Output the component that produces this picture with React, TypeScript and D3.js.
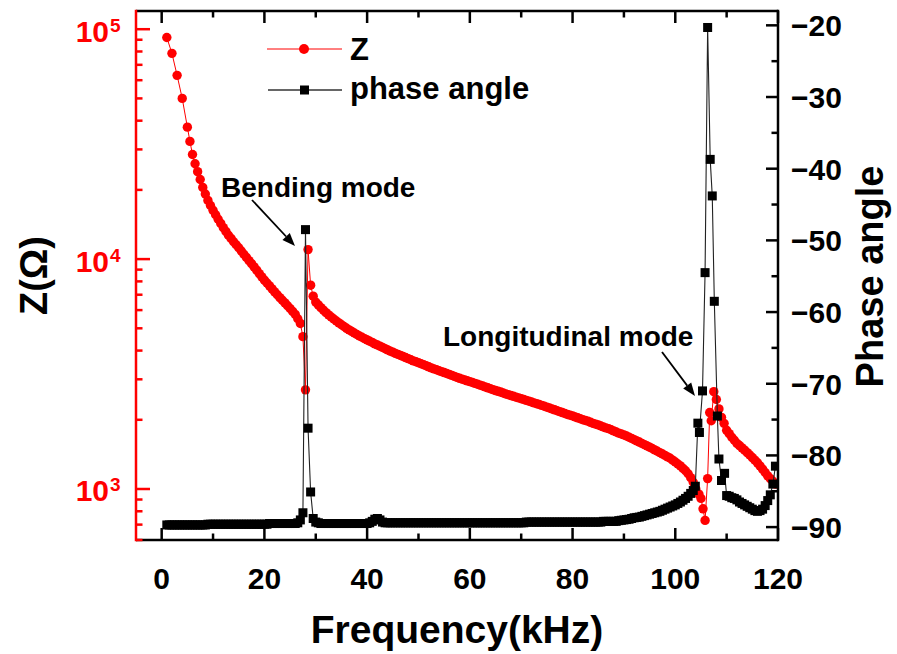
import React from 'react';
import * as d3 from 'd3';

// Impedance |Z| (Ohm) vs frequency (kHz)
const zFreq = [
  1, 2, 3, 4, 5, 5.5, 6, 6.5, 7, 7.5,
  8, 8.5, 9, 9.5, 10, 10.5, 11, 11.5, 12, 12.5,
  13, 13.5, 14, 14.5, 15, 15.5, 16, 16.5, 17, 17.5,
  18, 18.5, 19, 19.5, 20, 20.5, 21, 21.5, 22, 22.5,
  23, 23.5, 24, 24.5, 25, 25.5, 26, 26.5, 27, 27.5,
  28, 28.5, 29, 29.5, 30, 30.5, 31, 31.5, 32, 32.5,
  33, 33.5, 34, 34.5, 35, 35.5, 36, 36.5, 37, 37.5,
  38, 38.5, 39, 39.5, 40, 40.5, 41, 41.5, 42, 42.5,
  43, 43.5, 44, 44.5, 45, 45.5, 46, 46.5, 47, 47.5,
  48, 48.5, 49, 49.5, 50, 50.5, 51, 51.5, 52, 52.5,
  53, 53.5, 54, 54.5, 55, 55.5, 56, 56.5, 57, 57.5,
  58, 58.5, 59, 59.5, 60, 60.5, 61, 61.5, 62, 62.5,
  63, 63.5, 64, 64.5, 65, 65.5, 66, 66.5, 67, 67.5,
  68, 68.5, 69, 69.5, 70, 70.5, 71, 71.5, 72, 72.5,
  73, 73.5, 74, 74.5, 75, 75.5, 76, 76.5, 77, 77.5,
  78, 78.5, 79, 79.5, 80, 80.5, 81, 81.5, 82, 82.5,
  83, 83.5, 84, 84.5, 85, 85.5, 86, 86.5, 87, 87.5,
  88, 88.5, 89, 89.5, 90, 90.5, 91, 91.5, 92, 92.5,
  93, 93.5, 94, 94.5, 95, 95.5, 96, 96.5, 97, 97.5,
  98, 98.5, 99, 99.5, 100, 100.5, 101, 101.5, 102, 102.5,
  103, 103.5, 104, 104.6, 105, 105.4, 105.8, 106.3, 106.7, 107,
  107.5, 108, 108.5, 109, 109.5, 110, 110.5, 111, 111.5, 112,
  112.5, 113, 113.5, 114, 114.5, 115, 115.5, 116, 116.5, 117,
  117.5, 118, 118.5, 119, 119.5,
];
const zImp = [
  92000, 78500, 63000, 50000, 37500, 32500, 28500, 26000, 24000, 22200,
  20500, 19200, 18000, 17100, 16300, 15600, 14900, 14300, 13700, 13200,
  12700, 12300, 11900, 11550, 11200, 10850, 10500, 10170, 9850, 9550,
  9250, 8950, 8650, 8370, 8100, 7870, 7650, 7420, 7200, 7000,
  6800, 6620, 6450, 6270, 6100, 5920, 5750, 5500, 5250, 4600,
  2700, 11000, 7700, 6900, 6500, 6320, 6150, 6000, 5850, 5720,
  5600, 5490, 5380, 5280, 5180, 5090, 5000, 4920, 4850, 4770,
  4700, 4630, 4570, 4510, 4450, 4390, 4340, 4280, 4230, 4180,
  4130, 4080, 4030, 3980, 3940, 3890, 3850, 3810, 3770, 3730,
  3690, 3650, 3610, 3575, 3540, 3505, 3470, 3435, 3400, 3365,
  3330, 3300, 3270, 3240, 3210, 3180, 3150, 3120, 3090, 3060,
  3030, 3005, 2980, 2955, 2930, 2905, 2880, 2855, 2830, 2805,
  2780, 2755, 2730, 2705, 2680, 2660, 2640, 2615, 2590, 2570,
  2550, 2530, 2510, 2490, 2470, 2450, 2430, 2410, 2390, 2370,
  2350, 2330, 2310, 2290, 2270, 2250, 2230, 2210, 2190, 2170,
  2150, 2130, 2110, 2095, 2080, 2060, 2040, 2020, 2000, 1985,
  1970, 1950, 1930, 1915, 1900, 1880, 1860, 1845, 1830, 1810,
  1790, 1770, 1750, 1735, 1720, 1700, 1680, 1660, 1640, 1620,
  1600, 1580, 1560, 1540, 1520, 1500, 1480, 1460, 1440, 1420,
  1400, 1380, 1360, 1335, 1310, 1285, 1260, 1230, 1200, 1165,
  1120, 1070, 1000, 950, 910, 820, 730, 1110, 2150, 1980,
  2650, 2450, 2230, 2050, 1930, 1800, 1740, 1680, 1630, 1580,
  1545, 1510, 1475, 1440, 1405, 1370, 1335, 1300, 1260, 1220,
  1180, 1140, 1110, 1080, 1050,
];

// Phase angle (deg) vs frequency (kHz)
const phFreq = [
  1, 1.5, 2, 2.5, 3, 3.5, 4, 4.5, 5, 5.5,
  6, 6.5, 7, 7.5, 8, 8.5, 9, 9.5, 10, 10.5,
  11, 11.5, 12, 12.5, 13, 13.5, 14, 14.5, 15, 15.5,
  16, 16.5, 17, 17.5, 18, 18.5, 19, 19.5, 20, 20.5,
  21, 21.5, 22, 22.5, 23, 23.5, 24, 24.5, 25, 25.5,
  26, 26.5, 27, 27.5, 28, 28.5, 29, 29.5, 30, 30.5,
  31, 31.5, 32, 32.5, 33, 33.5, 34, 34.5, 35, 35.5,
  36, 36.5, 37, 37.5, 38, 38.5, 39, 39.5, 40, 40.5,
  41, 41.5, 42, 42.5, 43, 43.5, 44, 44.5, 45, 45.5,
  46, 46.5, 47, 47.5, 48, 48.5, 49, 49.5, 50, 50.5,
  51, 51.5, 52, 52.5, 53, 53.5, 54, 54.5, 55, 55.5,
  56, 56.5, 57, 57.5, 58, 58.5, 59, 59.5, 60, 60.5,
  61, 61.5, 62, 62.5, 63, 63.5, 64, 64.5, 65, 65.5,
  66, 66.5, 67, 67.5, 68, 68.5, 69, 69.5, 70, 70.5,
  71, 71.5, 72, 72.5, 73, 73.5, 74, 74.5, 75, 75.5,
  76, 76.5, 77, 77.5, 78, 78.5, 79, 79.5, 80, 80.5,
  81, 81.5, 82, 82.5, 83, 83.5, 84, 84.5, 85, 85.5,
  86, 86.5, 87, 87.5, 88, 88.5, 89, 89.5, 90, 90.5,
  91, 91.5, 92, 92.5, 93, 93.5, 94, 94.5, 95, 95.5,
  96, 96.5, 97, 97.5, 98, 98.5, 99, 99.5, 100, 100.5,
  101, 101.5, 102, 102.5, 103, 103.5, 103.9, 104.4, 104.7, 105.3,
  105.8, 106.3, 106.8, 107.2, 107.6, 108.2, 108.5, 109, 109.6, 110,
  110.5, 111, 111.5, 112, 112.5, 113, 113.5, 114, 114.5, 115,
  115.5, 116, 116.5, 117, 117.5, 118, 118.5, 119, 119.5,
];
const phAngle = [
  -89.7, -89.7, -89.7, -89.7, -89.7, -89.7, -89.7, -89.7, -89.7, -89.7,
  -89.7, -89.7, -89.7, -89.7, -89.7, -89.7, -89.6, -89.6, -89.6, -89.6,
  -89.6, -89.6, -89.6, -89.6, -89.6, -89.6, -89.6, -89.6, -89.6, -89.6,
  -89.6, -89.6, -89.6, -89.6, -89.6, -89.6, -89.6, -89.6, -89.6, -89.6,
  -89.5, -89.5, -89.5, -89.5, -89.5, -89.5, -89.5, -89.5, -89.5, -89.5,
  -89.5, -89.4, -89.0, -88.0, -48.5, -76.2, -85.1, -88.8, -89.3, -89.4,
  -89.5, -89.5, -89.5, -89.5, -89.5, -89.5, -89.5, -89.5, -89.5, -89.5,
  -89.5, -89.5, -89.5, -89.5, -89.5, -89.5, -89.5, -89.5, -89.5, -89.4,
  -89.2, -88.9, -88.8, -89.0, -89.3, -89.4, -89.4, -89.4, -89.4, -89.4,
  -89.4, -89.4, -89.4, -89.4, -89.4, -89.4, -89.4, -89.4, -89.4, -89.4,
  -89.4, -89.4, -89.4, -89.4, -89.4, -89.4, -89.4, -89.4, -89.4, -89.4,
  -89.4, -89.4, -89.4, -89.4, -89.4, -89.4, -89.4, -89.4, -89.4, -89.4,
  -89.4, -89.4, -89.4, -89.4, -89.4, -89.4, -89.4, -89.4, -89.4, -89.4,
  -89.4, -89.4, -89.4, -89.4, -89.4, -89.4, -89.4, -89.4, -89.4, -89.4,
  -89.3, -89.3, -89.3, -89.3, -89.3, -89.3, -89.3, -89.3, -89.3, -89.3,
  -89.3, -89.3, -89.3, -89.3, -89.3, -89.3, -89.3, -89.3, -89.3, -89.3,
  -89.3, -89.3, -89.3, -89.3, -89.3, -89.3, -89.3, -89.3, -89.3, -89.3,
  -89.2, -89.2, -89.2, -89.2, -89.2, -89.2, -89.1, -89.05, -89.0, -88.95,
  -88.9, -88.8, -88.7, -88.65, -88.6, -88.5, -88.4, -88.3, -88.2, -88.1,
  -88.0, -87.9, -87.8, -87.65, -87.5, -87.35, -87.2, -87.05, -86.9, -86.7,
  -86.5, -86.25, -86.0, -85.7, -85.3, -84.9, -84.3, -75.5, -76.8, -71.0,
  -54.5, -20.3, -38.7, -43.8, -58.5, -74.5, -80.5, -83.5, -82.5, -85.6,
  -85.7, -85.9, -86.0, -86.2, -86.5, -86.7, -86.9, -87.1, -87.3, -87.5,
  -87.7, -87.8, -87.7, -87.5, -87.0, -86.3, -85.5, -84.0, -81.5,
];

const xMajor = [0, 20, 40, 60, 80, 100, 120];
const xMinor = [10, 30, 50, 70, 90, 110];
const zMajor = [1e3, 1e4, 1e5];
const zExp = ['3', '4', '5'];
const zMinor = [600, 700, 800, 900, 2000, 3000, 4000, 5000, 6000, 7000, 8000, 9000,
  20000, 30000, 40000, 50000, 60000, 70000, 80000, 90000];
const pMajor = [-90, -80, -70, -60, -50, -40, -30, -20];
const pMinor = [-85, -75, -65, -55, -45, -35, -25];

const FONT = "'Liberation Sans', Arial, Helvetica, sans-serif";
const RED = '#ff0000';

export default function App() {
  const W = 897, H = 654;
  const L = 136, R = 778, T = 11, B = 540;
  const x = d3.scaleLinear().domain([-5, 120]).range([L, R]);
  const yZ = d3.scaleLog().domain([600, 120000]).range([B, T]);
  const yP = d3.scaleLinear().domain([-91.8, -18]).range([B, T]);

  const n = Math.min(zFreq.length, zImp.length);
  const m = Math.min(phFreq.length, phAngle.length);
  const zPts: [number, number][] = zFreq.slice(0, n).map((f, i) => [x(f), yZ(zImp[i])]);
  const pPts: [number, number][] = phFreq.slice(0, m).map((f, i) => [x(f), yP(phAngle[i])]);
  const line = d3.line();

  const maj = 12, mnr = 6.5, sw = 2.5;
  const sq = 9;

  const arrow = (x1: number, y1: number, x2: number, y2: number) => {
    const a = Math.atan2(y2 - y1, x2 - x1);
    const len = 13, hw = 5;
    const bx = x2 - len * Math.cos(a), by = y2 - len * Math.sin(a);
    const p1 = [bx + hw * Math.sin(a), by - hw * Math.cos(a)];
    const p2 = [bx - hw * Math.sin(a), by + hw * Math.cos(a)];
    return (
      <g>
        <line x1={x1} y1={y1} x2={bx} y2={by} stroke="#000" strokeWidth={1.8} />
        <polygon points={`${x2},${y2} ${p1[0]},${p1[1]} ${p2[0]},${p2[1]}`} fill="#000" />
      </g>
    );
  };

  return (
    <svg width={W} height={H} style={{ position: 'absolute', left: 0, top: 0, background: '#fff' }}
      fontFamily={FONT} fontWeight="bold">
      <defs>
        <clipPath id="plotclip">
          <rect x={L} y={T} width={R - L} height={B - T} />
        </clipPath>
      </defs>

      {/* data */}
      <g clipPath="url(#plotclip)">
        <path d={line(zPts) || ''} fill="none" stroke={RED} strokeWidth={1} />
        {zPts.map((p, i) => (
          <circle key={'z' + i} cx={p[0]} cy={p[1]} r={4.7} fill={RED} />
        ))}
        <path d={line(pPts) || ''} fill="none" stroke="#222" strokeWidth={1.1} />
        {pPts.map((p, i) => (
          <rect key={'p' + i} x={p[0] - sq / 2} y={p[1] - sq / 2} width={sq} height={sq} fill="#000" />
        ))}
      </g>

      {/* bottom & top axes */}
      <line x1={L} y1={B} x2={R} y2={B} stroke="#000" strokeWidth={sw} />
      <line x1={L} y1={T} x2={R} y2={T} stroke="#000" strokeWidth={sw} />
      {xMajor.map((v) => (
        <g key={'xm' + v}>
          <line x1={x(v)} x2={x(v)} y1={B} y2={B - maj} stroke="#000" strokeWidth={sw} />
          <line x1={x(v)} x2={x(v)} y1={T} y2={T + maj} stroke="#000" strokeWidth={sw} />
          <text x={x(v)} y={589} textAnchor="middle" fontSize={30} fill="#000">{v}</text>
        </g>
      ))}
      {xMinor.map((v) => (
        <g key={'xn' + v}>
          <line x1={x(v)} x2={x(v)} y1={B} y2={B - mnr} stroke="#000" strokeWidth={sw} />
          <line x1={x(v)} x2={x(v)} y1={T} y2={T + mnr} stroke="#000" strokeWidth={sw} />
        </g>
      ))}

      {/* left log axis (red) */}
      <line x1={L} y1={T - 1.25} x2={L} y2={B + 1.25} stroke={RED} strokeWidth={sw} />
      {zMajor.map((v, i) => (
        <g key={'zm' + v}>
          <line x1={L} x2={L + maj + 2} y1={yZ(v)} y2={yZ(v)} stroke={RED} strokeWidth={sw} />
          <text x={109} y={yZ(v) + 12.4} textAnchor="end" fontSize={30} fill={RED}>10</text>
          <text x={110} y={yZ(v) + 2.4} textAnchor="start" fontSize={19} fill={RED}>{zExp[i]}</text>
        </g>
      ))}
      {zMinor.map((v) => (
        <line key={'zn' + v} x1={L} x2={L + mnr} y1={yZ(v)} y2={yZ(v)} stroke={RED} strokeWidth={sw} />
      ))}

      {/* right phase axis */}
      <line x1={R} y1={T - 1.25} x2={R} y2={B + 1.25} stroke="#000" strokeWidth={sw} />
      {pMajor.map((v) => (
        <g key={'pm' + v}>
          <line x1={R} x2={R - maj} y1={yP(v)} y2={yP(v)} stroke="#000" strokeWidth={sw} />
          <text x={791} y={yP(v) + 11} textAnchor="start" fontSize={30} fill="#000">{'\u2212' + Math.abs(v)}</text>
        </g>
      ))}
      {pMinor.map((v) => (
        <line key={'pn' + v} x1={R} x2={R - mnr} y1={yP(v)} y2={yP(v)} stroke="#000" strokeWidth={sw} />
      ))}

      {/* axis titles */}
      <text x={(L + R) / 2} y={643} textAnchor="middle" fontSize={39} fill="#000">Frequency(kHz)</text>
      <text transform={`translate(47,${(T + B) / 2}) rotate(-90)`} textAnchor="middle" fontSize={38} fill="#000">Z(Ω)</text>
      <text transform={`translate(883,${(T + B) / 2 + 1}) rotate(-90)`} textAnchor="middle" fontSize={38} fill="#000">Phase angle</text>

      {/* legend */}
      <line x1={267} x2={342} y1={49} y2={49} stroke={RED} strokeWidth={1} />
      <circle cx={304} cy={49} r={5} fill={RED} />
      <text x={350} y={60} fontSize={31} fill="#000">Z</text>
      <line x1={268} x2={342} y1={90} y2={90} stroke="#333" strokeWidth={1.5} />
      <rect x={304.5 - 4.5} y={90 - 4.5} width={9} height={9} fill="#000" />
      <text x={350} y={99} fontSize={31} fill="#000">phase angle</text>

      {/* annotations */}
      <text x={221} y={197} fontSize={28} fill="#000">Bending mode</text>
      {arrow(252, 200, 295, 246)}
      <text x={443} y={346} fontSize={28} fill="#000">Longitudinal mode</text>
      {arrow(662, 352, 695, 396)}
    </svg>
  );
}
